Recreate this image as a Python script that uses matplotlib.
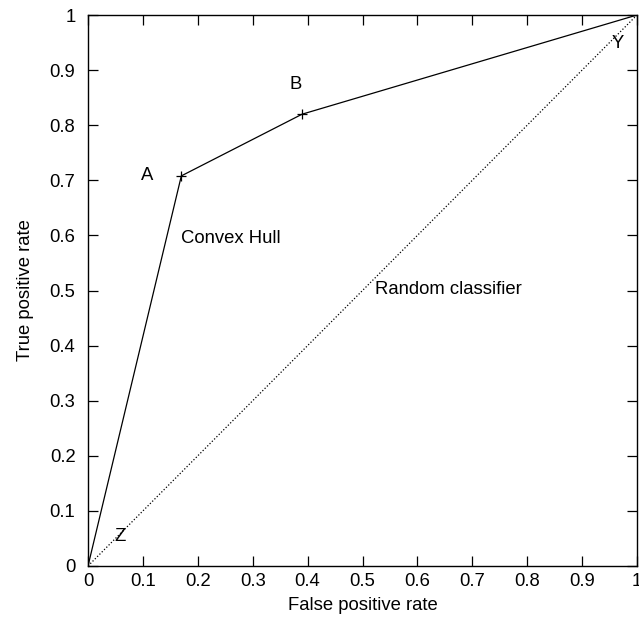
import matplotlib
matplotlib.use("Agg")
import matplotlib.pyplot as plt

plt.rcParams['font.family'] = ['Liberation Sans', 'DejaVu Sans']

hull_x = [0.0, 0.17, 0.39, 1.0]
hull_y = [0.0, 0.708, 0.82, 1.0]
marker_x = [0.17, 0.39]
marker_y = [0.708, 0.82]
rand_x = [0.0, 1.0]
rand_y = [0.0, 1.0]
labels = [("A", 0.107, 0.708), ("B", 0.379, 0.873), ("Y", 0.965, 0.948),
          ("Z", 0.058, 0.053)]
texts = [("Convex Hull", 0.17, 0.595), ("Random classifier", 0.522, 0.501)]
ticks = [0, 0.1, 0.2, 0.3, 0.4, 0.5, 0.6, 0.7, 0.8, 0.9, 1]
tick_labels = ["0", "0.1", "0.2", "0.3", "0.4", "0.5", "0.6", "0.7", "0.8", "0.9", "1"]

FS = 13.3
fig = plt.figure(figsize=(6.39, 6.26), dpi=100)
ax = fig.add_axes([88/639, 60/626, 549/639, 551/626])
ax.plot(hull_x, hull_y, color='black', lw=0.9)
ax.plot(marker_x, marker_y, ls='none', marker='+', color='black', ms=7, mew=0.9)
ax.plot(rand_x, rand_y, color='black', lw=0.9, ls=(0, (1, 1.6)))
for t, x, y in labels:
    ax.text(x, y, t, fontsize=FS, ha='center', va='center')
for t, x, y in texts:
    ax.text(x, y, t, fontsize=FS, ha='left', va='center')
ax.set_xlim(0, 1)
ax.set_ylim(0, 1)
ax.set_xticks(ticks)
ax.set_xticklabels(tick_labels)
ax.set_yticks(ticks)
ax.set_yticklabels(tick_labels)
ax.tick_params(direction='in', top=True, right=True, length=7, width=0.9,
               labelsize=FS, colors='black')
ax.tick_params(axis='x', pad=5)
ax.tick_params(axis='y', pad=9)
for s in ax.spines.values():
    s.set_linewidth(1.0)
ax.set_xlabel("False positive rate", fontsize=FS, labelpad=5)
ax.set_ylabel("True positive rate", fontsize=FS, labelpad=11)
fig.savefig("out.png", dpi=100)
